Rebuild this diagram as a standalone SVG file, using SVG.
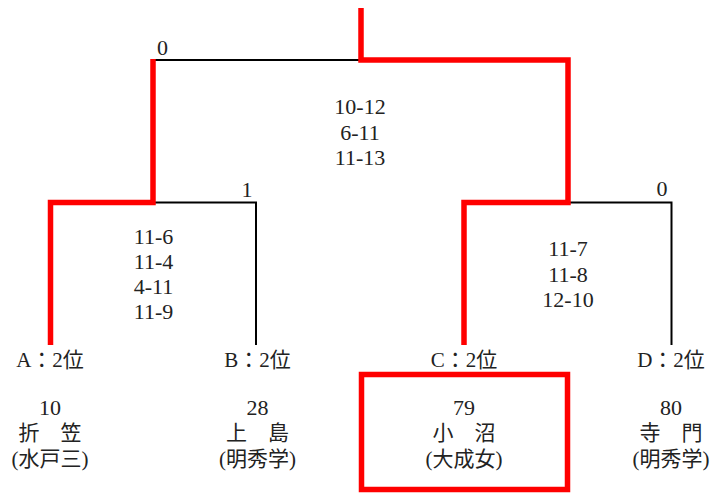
<svg xmlns="http://www.w3.org/2000/svg" width="713" height="493" viewBox="0 0 713 493">
<style>
text{font-family:"Liberation Serif","Noto Sans CJK JP",serif;font-size:21px;fill:#222;text-anchor:middle}
.num{font-size:22px}
.blk{fill:none;stroke:#000;stroke-width:2;stroke-linejoin:miter}
.red{fill:none;stroke:#ff0000;stroke-width:5.5;stroke-linejoin:miter}
</style>
<rect width="713" height="493" fill="#fff"/>
<g id="connectors">
<path class="blk" d="M153,60 H361"/>
<path class="blk" d="M153,202.5 H256 V345"/>
<path class="blk" d="M568,202.5 H671.5 V345"/>
<path class="red" d="M361,8 V60 H568 V202.5 H464 V345"/>
<path class="red" d="M153,59 V202.5 H50.5 V345"/>
</g>
<g id="scores">
<text class="num" x="162.5" y="55">0</text>
<text class="num" x="247" y="196.5">1</text>
<text class="num" x="662" y="196">0</text>
<text class="num" x="360" y="114">10-12</text>
<text class="num" x="360" y="139.5">6-11</text>
<text class="num" x="360" y="165">11-13</text>
<text class="num" x="153.5" y="243.5">11-6</text>
<text class="num" x="153.5" y="269">11-4</text>
<text class="num" x="153.5" y="294">4-11</text>
<text class="num" x="153.5" y="319">11-9</text>
<text class="num" x="568" y="255.5">11-7</text>
<text class="num" x="568" y="281.5">11-8</text>
<text class="num" x="568" y="306.5">12-10</text>
</g>
<g id="node-a">
<text x="50" y="367">A：2位</text>
<text class="num" x="50" y="415">10</text>
<text x="50" y="440">折　笠</text>
<text x="50" y="466">(水戸三)</text>
</g>
<g id="node-b">
<text x="257.5" y="367">B：2位</text>
<text class="num" x="257.5" y="415">28</text>
<text x="257.5" y="440">上　島</text>
<text x="257.5" y="466">(明秀学)</text>
</g>
<g id="node-c">
<rect x="361.5" y="374.5" width="206" height="115" class="red"/>
<text x="464" y="367">C：2位</text>
<text class="num" x="464" y="415">79</text>
<text x="464" y="440">小　沼</text>
<text x="464" y="466">(大成女)</text>
</g>
<g id="node-d">
<text x="671" y="367">D：2位</text>
<text class="num" x="671" y="415">80</text>
<text x="671" y="440">寺　門</text>
<text x="671" y="466">(明秀学)</text>
</g>
</svg>
